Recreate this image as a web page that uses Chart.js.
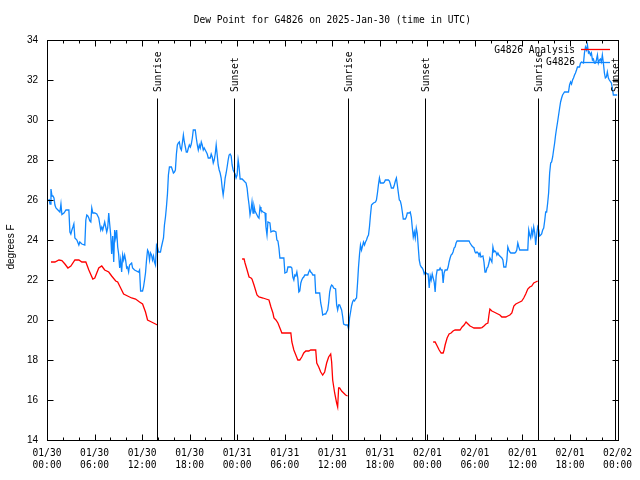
<!DOCTYPE html>
<html>
<head>
<meta charset="utf-8">
<script src="https://cdn.jsdelivr.net/npm/chart.js@4"></script>
<style>
    body { margin: 0; background: #fff; }
</style>
</head>
<body>
<canvas id="dewChart" width="640" height="480"></canvas>
<script>
// all times are hours since 2025-01-30 00:00 UTC
var chartTitle = 'Dew Point for G4826 on 2025-Jan-30 (time in UTC)';
var yTitle = 'degrees F';

var tickDates = ['01/30', '01/30', '01/30', '01/30', '01/31', '01/31', '01/31', '01/31', '02/01', '02/01', '02/01', '02/01', '02/02'];
var tickTimes = ['00:00', '06:00', '12:00', '18:00', '00:00', '06:00', '12:00', '18:00', '00:00', '06:00', '12:00', '18:00', '00:00'];

var sunHours = [13.86, 23.55, 37.98, 47.68, 61.96, 71.72];
var sunLabels = ['Sunrise', 'Sunset', 'Sunrise', 'Sunset', 'Sunrise', 'Sunset'];

// G4826 Analysis (null = no analysis)
var redHours = [
    0.50, 1.00, 1.51, 1.88, 2.26, 2.64, 3.01, 3.52, 4.02, 4.40,
    4.90, 5.28, 5.78, 6.03, 6.53, 6.91, 7.28, 7.79, 8.16, 8.67,
    8.92, 9.17, 9.67, 10.17, 10.68, 11.18, 11.68, 12.06, 12.43, 12.69,
    13.19, 13.94, 19.00, 24.62, 24.87, 24.99, 25.25, 25.50, 25.75, 25.87,
    26.12, 26.50, 26.75, 27.26, 27.63, 28.01, 28.26, 28.51, 28.64, 28.89,
    29.14, 29.39, 29.64, 30.77, 30.90, 31.15, 31.40, 31.65, 31.90, 32.15,
    32.40, 32.66, 33.03, 33.28, 33.91, 34.04, 34.29, 34.54, 34.79, 35.04,
    35.29, 35.54, 35.80, 35.92, 36.05, 36.30, 36.55, 36.68, 36.80, 36.93,
    37.18, 37.43, 37.68, 37.93, 43.00, 48.73, 48.98, 49.24, 49.49, 49.74,
    49.99, 50.11, 50.24, 50.49, 50.74, 50.99, 51.24, 51.50, 52.12, 52.38,
    52.63, 52.88, 53.13, 53.38, 53.63, 53.88, 54.64, 54.89, 55.14, 55.39,
    55.64, 55.77, 55.89, 56.14, 56.40, 56.65, 56.90, 57.15, 57.40, 57.90,
    58.15, 58.41, 58.66, 58.91, 59.16, 59.41, 59.66, 59.91, 60.16, 60.41,
    60.67, 60.92, 61.17, 61.42, 61.67, 61.92
];
var redDew = [
    22.9, 22.9, 23.0, 22.97, 22.8, 22.6, 22.7, 23.0, 23.0, 22.9,
    22.9, 22.5, 22.05, 22.1, 22.6, 22.7, 22.5, 22.4, 22.2, 21.95,
    21.9, 21.7, 21.3, 21.2, 21.1, 21.05, 20.9, 20.8, 20.4, 20.0,
    19.9, 19.75, null, 23.05, 23.05, 22.85, 22.5, 22.15, 22.1, 22.05,
    21.75, 21.25, 21.15, 21.1, 21.05, 21.0, 20.65, 20.35, 20.1, 20.0,
    19.85, 19.6, 19.35, 19.35, 18.9, 18.5, 18.25, 18.0, 18.0, 18.15,
    18.35, 18.45, 18.45, 18.5, 18.5, 17.85, 17.65, 17.4, 17.25, 17.4,
    17.85, 18.15, 18.3, 17.9, 17.0, 16.35, 15.85, 15.65, 16.6, 16.6,
    16.45, 16.35, 16.25, 16.2, null, 18.9, 18.9, 18.7, 18.5, 18.35,
    18.35, 18.5, 18.75, 19.1, 19.3, 19.35, 19.45, 19.5, 19.5, 19.65,
    19.75, 19.9, 19.8, 19.7, 19.65, 19.6, 19.6, 19.62, 19.7, 19.8,
    19.85, 20.25, 20.55, 20.45, 20.4, 20.35, 20.3, 20.25, 20.15, 20.15,
    20.2, 20.25, 20.35, 20.7, 20.8, 20.85, 20.9, 20.95, 21.1, 21.3,
    21.55, 21.65, 21.7, 21.85, 21.9, 21.95
];

// G4826 observations
var blueHours = [
    0.25, 0.38, 0.50, 0.63, 0.75, 0.88, 1.00, 1.13, 1.38, 1.63,
    1.76, 1.88, 2.14, 2.39, 2.76, 2.89, 3.01, 3.14, 3.27, 3.39,
    3.52, 3.77, 4.02, 4.14, 4.40, 4.77, 4.90, 5.02, 5.15, 5.28,
    5.40, 5.53, 5.65, 5.78, 6.03, 6.28, 6.53, 6.78, 6.91, 7.03,
    7.28, 7.41, 7.54, 7.66, 7.79, 7.91, 8.04, 8.16, 8.29, 8.42,
    8.54, 8.67, 8.79, 8.92, 9.04, 9.17, 9.29, 9.42, 9.55, 9.67,
    9.80, 9.92, 10.05, 10.17, 10.30, 10.42, 10.68, 10.80, 11.05, 11.56,
    11.68, 11.81, 12.06, 12.18, 12.31, 12.43, 12.56, 12.69, 12.81, 12.94,
    13.06, 13.19, 13.31, 13.44, 13.56, 13.69, 13.82, 13.94, 14.07, 14.32,
    14.44, 14.70, 14.82, 14.95, 15.07, 15.20, 15.32, 15.45, 15.70, 15.83,
    15.95, 16.08, 16.20, 16.33, 16.45, 16.58, 16.70, 16.83, 16.96, 17.08,
    17.21, 17.33, 17.46, 17.58, 17.71, 17.84, 17.96, 18.09, 18.21, 18.34,
    18.46, 18.71, 18.84, 18.97, 19.09, 19.22, 19.34, 19.47, 19.59, 19.72,
    19.84, 19.97, 20.10, 20.22, 20.35, 20.60, 20.72, 20.85, 20.98, 21.10,
    21.23, 21.35, 21.48, 21.60, 21.73, 21.85, 21.98, 22.11, 22.23, 22.36,
    22.48, 22.61, 22.73, 22.86, 22.98, 23.11, 23.24, 23.36, 23.49, 23.61,
    23.74, 23.86, 23.99, 24.12, 24.24, 24.37, 24.62, 24.87, 24.99, 25.12,
    25.25, 25.37, 25.50, 25.62, 25.75, 25.87, 26.00, 26.12, 26.25, 26.50,
    26.63, 26.75, 26.88, 27.00, 27.26, 27.51, 27.63, 27.76, 27.88, 28.13,
    28.26, 28.51, 28.64, 28.89, 29.01, 29.14, 29.27, 29.39, 29.89, 30.02,
    30.27, 30.40, 30.77, 30.90, 31.02, 31.15, 31.27, 31.40, 31.53, 31.65,
    31.78, 31.90, 32.03, 32.15, 32.28, 32.40, 32.53, 32.91, 33.03, 33.16,
    33.28, 33.41, 33.54, 33.79, 33.91, 34.41, 34.54, 34.67, 34.79, 35.04,
    35.17, 35.29, 35.42, 35.54, 35.67, 35.80, 35.92, 36.05, 36.17, 36.42,
    36.55, 36.68, 36.80, 36.93, 37.18, 37.30, 37.43, 37.68, 37.93, 38.06,
    38.18, 38.31, 38.43, 38.56, 38.68, 38.81, 38.94, 39.06, 39.19, 39.31,
    39.44, 39.56, 39.69, 39.82, 39.94, 40.07, 40.19, 40.32, 40.44, 40.57,
    40.69, 40.82, 40.95, 41.07, 41.20, 41.45, 41.57, 41.70, 41.82, 41.95,
    42.08, 42.45, 42.58, 42.70, 43.08, 43.21, 43.33, 43.46, 43.71, 43.83,
    43.96, 44.09, 44.21, 44.34, 44.46, 44.59, 44.71, 44.84, 44.96, 45.22,
    45.34, 45.47, 45.72, 45.84, 45.97, 46.09, 46.22, 46.35, 46.47, 46.60,
    46.72, 46.85, 46.97, 47.10, 47.23, 47.35, 47.48, 47.60, 47.73, 47.85,
    47.98, 48.10, 48.23, 48.36, 48.48, 48.61, 48.73, 48.86, 48.98, 49.11,
    49.24, 49.49, 49.61, 49.74, 49.86, 49.99, 50.11, 50.24, 50.49, 50.62,
    50.74, 50.87, 50.99, 51.12, 51.24, 51.37, 51.50, 51.62, 51.75, 53.26,
    53.38, 53.63, 53.76, 53.88, 54.01, 54.13, 54.26, 54.39, 54.51, 54.64,
    54.76, 55.01, 55.14, 55.27, 55.39, 55.52, 55.64, 55.77, 55.89, 56.02,
    56.14, 56.27, 56.40, 56.52, 56.65, 56.77, 56.90, 57.02, 57.27, 57.40,
    57.53, 57.65, 57.90, 58.03, 58.15, 58.28, 58.41, 58.53, 59.03, 59.16,
    59.28, 59.41, 59.54, 59.66, 60.67, 60.79, 60.92, 61.04, 61.17, 61.29,
    61.42, 61.55, 61.67, 61.80, 61.92, 62.05, 62.17, 62.30, 62.42, 62.55,
    62.68, 62.80, 62.93, 63.05, 63.18, 63.30, 63.43, 63.56, 63.68, 63.81,
    63.93, 64.06, 64.18, 64.31, 64.43, 64.56, 64.69, 64.81, 64.94, 65.06,
    65.31, 65.81, 65.94, 66.07, 66.19, 66.32, 66.44, 66.57, 66.69, 66.82,
    66.94, 67.20, 67.32, 67.45, 67.70, 67.82, 67.95, 68.08, 68.20, 68.33,
    68.45, 68.58, 68.70, 68.83, 68.95, 69.08, 69.21, 69.33, 69.46, 69.58,
    69.71, 69.83, 69.96, 70.08, 70.21, 70.34, 70.46, 70.59, 70.71, 70.84,
    70.96, 71.22, 71.34, 71.47, 71.97
];
var blueDew = [
    26.05, 25.8, 26.55, 26.2, 26.2, 26.1, 25.75, 25.6, 25.5, 25.4,
    25.8, 25.27, 25.35, 25.5, 25.5, 24.4, 24.3, 24.5, 24.65, 24.8,
    24.1, 24.0, 23.75, 23.9, 23.8, 23.75, 25.0, 25.25, 25.2, 25.1,
    24.95, 24.9, 25.6, 25.35, 25.35, 25.3, 25.1, 24.5, 24.65, 24.5,
    24.9, 24.65, 24.4, 24.6, 25.35, 24.8, 24.25, 23.3, 24.2, 22.9,
    24.5, 24.1, 24.5, 23.65, 23.3, 22.6, 23.0, 22.4, 23.25, 23.0,
    23.25, 23.0, 22.6, 22.65, 22.4, 22.75, 22.85, 22.6, 22.5, 22.4,
    22.5, 21.45, 21.45, 21.65, 22.0, 22.35, 23.0, 23.5, 23.4, 23.0,
    23.35, 23.25, 23.0, 23.2, 22.9, 22.75, 23.75, 23.65, 23.4, 23.4,
    23.65, 24.1, 24.75, 25.15, 25.65, 26.3, 27.25, 27.65, 27.65, 27.5,
    27.35, 27.4, 27.5, 28.3, 28.75, 28.85, 28.9, 28.6, 28.5, 28.85,
    29.25, 28.9, 28.65, 28.4, 28.4, 28.6, 28.75, 28.65, 28.8, 29.1,
    29.5, 29.5, 29.1, 28.75, 28.5, 28.75, 28.6, 28.9, 28.75, 28.5,
    28.6, 28.5, 28.4, 28.3, 28.1, 28.1, 28.3, 28.15, 27.85, 28.0,
    28.3, 28.75, 28.25, 27.75, 27.5, 27.35, 27.1, 26.6, 26.25, 26.65,
    27.1, 27.35, 27.65, 28.0, 28.25, 28.3, 28.2, 27.75, 27.5, 27.4,
    27.3, 27.1, 27.25, 28.0, 27.65, 27.05, 27.05, 26.95, 26.9, 26.85,
    26.6, 26.15, 25.75, 25.25, 25.5, 25.9, 25.35, 25.7, 25.45, 25.25,
    25.15, 25.1, 25.65, 25.5, 25.4, 25.35, 24.65, 24.25, 24.9, 24.85,
    24.4, 24.45, 24.45, 24.4, 24.0, 23.95, 23.6, 23.1, 23.1, 22.35,
    22.4, 22.65, 22.65, 22.6, 22.15, 22.0, 22.25, 22.2, 22.4, 22.1,
    21.4, 21.45, 21.85, 22.0, 22.1, 22.15, 22.25, 22.25, 22.4, 22.5,
    22.4, 22.35, 22.25, 22.25, 21.35, 21.35, 20.85, 20.6, 20.25, 20.3,
    20.3, 20.4, 20.5, 20.85, 21.4, 21.65, 21.75, 21.7, 21.6, 21.55,
    20.75, 20.5, 20.75, 20.75, 20.5, 20.2, 19.8, 19.75, 19.75, 19.55,
    20.1, 20.4, 20.7, 20.9, 21.0, 20.95, 21.05, 21.1, 21.85, 22.65,
    23.3, 23.75, 23.5, 23.7, 23.9, 23.75, 23.9, 24.0, 24.15, 24.25,
    24.65, 25.25, 25.75, 25.8, 25.85, 25.9, 26.0, 26.35, 26.75, 27.1,
    26.85, 26.85, 26.9, 27.0, 27.0, 26.95, 26.8, 26.6, 26.6, 26.75,
    26.95, 27.1, 26.75, 26.35, 26.0, 25.95, 25.75, 25.4, 25.05, 25.05,
    25.15, 25.35, 25.35, 25.4, 25.15, 24.65, 24.15, 24.4, 24.1, 24.6,
    24.35, 23.65, 23.0, 22.75, 22.65, 22.6, 22.5, 22.3, 22.4, 22.35,
    22.3, 22.3, 21.6, 22.2, 22.0, 22.3, 22.1, 21.9, 21.4, 22.2,
    22.5, 22.5, 22.6, 22.5, 22.5, 21.85, 22.35, 22.5, 22.5, 22.65,
    22.9, 23.1, 23.25, 23.3, 23.4, 23.6, 23.65, 23.85, 23.95, 23.95,
    23.85, 23.7, 23.65, 23.6, 23.4, 23.35, 23.4, 23.35, 23.25, 23.35,
    23.15, 23.2, 22.9, 22.4, 22.4, 22.6, 22.65, 22.85, 23.1, 23.0,
    22.9, 23.65, 23.4, 23.45, 23.4, 23.25, 23.35, 23.25, 23.15, 23.1,
    23.0, 22.65, 22.65, 23.0, 23.65, 23.5, 23.4, 23.35, 23.35, 23.4,
    23.5, 23.85, 23.65, 23.5, 23.5, 24.5, 24.25, 24.1, 24.5, 24.25,
    24.65, 24.35, 23.75, 24.3, 24.65, 24.5, 24.2, 24.25, 24.3, 24.5,
    24.6, 24.95, 25.4, 25.4, 25.85, 26.35, 27.35, 27.85, 27.9, 28.15,
    28.5, 28.85, 29.25, 29.6, 29.9, 30.25, 30.6, 30.9, 31.1, 31.25,
    31.4, 31.4, 31.75, 31.9, 31.8, 32.0, 32.1, 32.25, 32.35, 32.5,
    32.65, 32.65, 32.85, 32.9, 32.85, 33.35, 33.65, 33.5, 33.75, 33.35,
    33.4, 33.25, 33.35, 33.0, 33.05, 32.85, 32.85, 33.0, 33.25, 32.85,
    33.0, 33.05, 32.9, 33.25, 32.85, 32.35, 32.1, 32.15, 32.4, 32.1,
    32.0, 31.85, 31.6, 31.25, 31.25
];

var monoFont = "'DejaVu Sans Mono', 'Liberation Mono', monospace";
var sansFont = "'Liberation Sans', Arial, sans-serif";

function toPoints(hours, values) {
    return hours.map(function (h, i) {
        return { x: h, y: values[i] };
    });
}

// gnuplot style frame, inward ticks, sun markers, key and title
var gnuplotDecor = {
    id: 'gnuplotDecor',
    afterDatasetsDraw: function (chart) {
        var ctx = chart.ctx;
        var area = chart.chartArea;
        var xs = chart.scales.x;
        var ys = chart.scales.y;
        var left = Math.round(area.left) + 0.5;
        var right = Math.round(area.right) + 0.5;
        var top = Math.round(area.top) + 0.5;
        var bottom = Math.round(area.bottom) + 0.5;

        ctx.save();
        ctx.strokeStyle = '#000';
        ctx.fillStyle = '#000';
        ctx.lineWidth = 1;

        // sunrise / sunset
        ctx.font = '9.6px ' + monoFont;
        for (var i = 0; i < sunHours.length; i++) {
            var sx = Math.round(xs.getPixelForValue(sunHours[i])) + 0.5;
            ctx.beginPath();
            ctx.moveTo(sx, top + 58);
            ctx.lineTo(sx, bottom);
            ctx.stroke();
            ctx.save();
            ctx.translate(sx + 0.5, top + 51.5);
            ctx.rotate(-Math.PI / 2);
            ctx.textAlign = 'left';
            ctx.textBaseline = 'middle';
            ctx.fillText(sunLabels[i], 0, 0);
            ctx.restore();
        }

        // frame
        ctx.strokeRect(left, top, right - left, bottom - top);

        // x ticks: major every 6 h, minor every 2 h
        ctx.beginPath();
        for (var h = xs.min; h <= xs.max; h += 2) {
            var tx = Math.round(xs.getPixelForValue(h)) + 0.5;
            var len = (h % 6 === 0) ? 6 : 3;
            ctx.moveTo(tx, bottom);
            ctx.lineTo(tx, bottom - len);
            ctx.moveTo(tx, top);
            ctx.lineTo(tx, top + len);
        }
        // y ticks
        ys.ticks.forEach(function (t) {
            var ty = Math.round(ys.getPixelForValue(t.value)) + 0.5;
            ctx.moveTo(left, ty);
            ctx.lineTo(left + 6, ty);
            ctx.moveTo(right, ty);
            ctx.lineTo(right - 6, ty);
        });
        ctx.stroke();

        // title
        ctx.font = '9.6px ' + monoFont;
        ctx.textAlign = 'center';
        ctx.textBaseline = 'middle';
        ctx.fillText(chartTitle, (area.left + area.right) / 2, 20);

        // y axis title
        ctx.save();
        ctx.font = '10px ' + sansFont;
        ctx.translate(11, 247);
        ctx.rotate(-Math.PI / 2);
        ctx.fillText(yTitle, 0, 0);
        ctx.restore();

        // key
        ctx.font = '9.6px ' + monoFont;
        ctx.textAlign = 'right';
        chart.data.datasets.forEach(function (ds, k) {
            var ky = 50 + k * 12.5;
            ctx.fillStyle = '#000';
            ctx.fillText(ds.label, 575, ky);
            ctx.strokeStyle = ds.borderColor;
            ctx.lineWidth = 1.3;
            ctx.beginPath();
            ctx.moveTo(581, Math.round(ky) - 0.5);
            ctx.lineTo(610, Math.round(ky) - 0.5);
            ctx.stroke();
        });

        ctx.restore();
    }
};

var dewChart = new Chart(document.getElementById('dewChart'), {
    type: 'line',
    data: {
        datasets: [
            {
                label: 'G4826 Analysis',
                data: toPoints(redHours, redDew),
                borderColor: '#ff0000',
                borderWidth: 1.3,
                pointRadius: 0,
                spanGaps: false,
                tension: 0
            },
            {
                label: 'G4826',
                data: toPoints(blueHours, blueDew),
                borderColor: '#0f87ff',
                borderWidth: 1.3,
                pointRadius: 0,
                tension: 0
            }
        ]
    },
    options: {
        responsive: false,
        animation: false,
        devicePixelRatio: 1,
        layout: {
            padding: { top: 40, right: 20, bottom: 0, left: 0 }
        },
        plugins: {
            legend: { display: false },
            title: { display: false },
            tooltip: { enabled: false }
        },
        scales: {
            x: {
                type: 'linear',
                min: 0,
                max: 72,
                grid: { display: false, drawTicks: false },
                border: { display: false },
                ticks: {
                    stepSize: 6,
                    autoSkip: false,
                    maxRotation: 0,
                    padding: 8,
                    color: '#000',
                    font: { family: monoFont, size: 9.6, lineHeight: 1.2 },
                    callback: function (value) {
                        var k = Math.round(value / 6);
                        return [tickDates[k], tickTimes[k]];
                    }
                },
                afterFit: function (scale) {
                    scale.height = 40;
                }
            },
            y: {
                min: 14,
                max: 34,
                grid: { display: false, drawTicks: false },
                border: { display: false },
                ticks: {
                    stepSize: 2,
                    padding: 9,
                    color: '#000',
                    font: { family: sansFont, size: 10 }
                },
                afterFit: function (scale) {
                    scale.width = 47;
                }
            }
        }
    },
    plugins: [gnuplotDecor]
});
</script>
</body>
</html>
